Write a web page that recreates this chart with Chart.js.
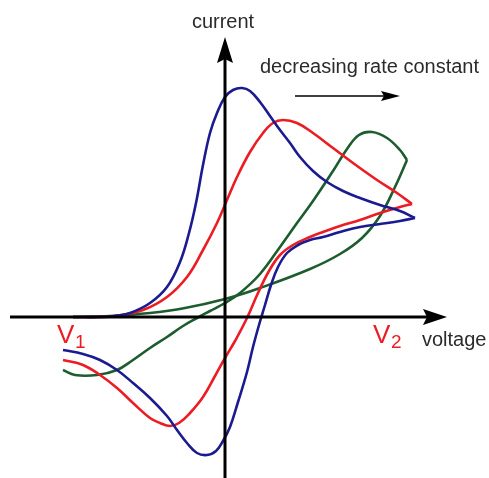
<!DOCTYPE html>
<html lang="en">
<head>
  <meta charset="UTF-8" />
  <title>Cyclic voltammograms — decreasing rate constant</title>
  <script src="https://cdn.jsdelivr.net/npm/chart.js"></script>
  <style>
    html, body { margin: 0; padding: 0; background: #fff; }
    #wrap { width: 489px; height: 478px; }
  </style>
</head>
<body>
  <div id="wrap"><canvas id="cv"></canvas></div>
  <script>
    // voltage, current in arbitrary units (origin = axis crossing)
    // each sweep: forward V1 -> V2, then reverse V2 -> V1
    const blueForward = [
      [-152, 0], [-125, 0], [-110, 1], [-95, 4], [-75, 14], [-58, 30], [-45, 55], [-36, 84],
      [-29, 114], [-22, 152], [-15, 184], [-8, 204], [0, 220], [8, 227], [17, 229], [25, 226],
      [35, 215], [45, 201], [55, 187], [65, 174], [75, 160], [88, 146], [102, 135], [118, 126],
      [135, 119], [155, 112], [175, 106], [190, 99]
    ];
    const blueReverse = [
      [190, 99], [175, 96], [155, 93], [135, 90], [115, 85], [98, 80], [85, 77], [73, 72],
      [62, 64], [53, 50], [46, 32], [40, 12], [34, -8], [28, -30], [22, -55], [13, -85],
      [5, -110], [-2, -124], [-9, -134], [-18, -138], [-28, -136], [-38, -126], [-48, -113],
      [-58, -99], [-75, -81], [-92, -66], [-108, -53], [-125, -43], [-142, -37], [-162, -33]
    ];
    const redForward = [
      [-152, 0], [-125, 0], [-110, 1], [-82, 7], [-58, 20], [-38, 40], [-22, 67], [-8, 94],
      [2, 117], [12, 140], [25, 165], [38, 184], [48, 194], [58, 197], [72, 194], [88, 184],
      [108, 169], [128, 154], [152, 137], [172, 124], [187, 113]
    ];
    const redReverse = [
      [187, 113], [175, 110], [155, 104], [135, 97], [115, 91], [98, 85], [85, 80], [68, 72],
      [55, 62], [44, 46], [33, 24], [22, -1], [10, -24], [0, -41], [-10, -59], [-22, -80],
      [-35, -96], [-46, -106], [-55, -109], [-65, -106], [-75, -101], [-92, -86], [-108, -71],
      [-125, -58], [-142, -48], [-162, -43]
    ];
    const greenForward = [
      [-152, 0], [-115, 1], [-75, 4], [-40, 9], [0, 18], [35, 29], [85, 48], [115, 63],
      [137, 79], [155, 101], [170, 130], [182, 157]
    ];
    const greenReverse = [
      [182, 157], [175, 167], [162, 179], [147, 185], [134, 182], [122, 168], [108, 146],
      [88, 116], [72, 94], [55, 70], [35, 43], [15, 24], [0, 14], [-15, 6], [-28, -1],
      [-42, -9], [-58, -20], [-75, -31], [-92, -43], [-108, -53], [-128, -58], [-150, -58], [-162, -53]
    ];

    const BLUE = '#1b1b8f';
    const RED = '#ec1c24';
    const GREEN = '#1d5c2f';

    const sweeps = [
      { data: blueForward, color: BLUE },
      { data: blueReverse, color: BLUE },
      { data: redForward, color: RED },
      { data: redReverse, color: RED },
      { data: greenForward, color: GREEN },
      { data: greenReverse, color: GREEN }
    ];

    // draws the two arrow axes through the origin and the annotations
    const axesPlugin = {
      id: 'axesPlugin',
      afterDatasetsDraw(chart) {
        const { ctx, scales: { x, y } } = chart;
        const px = v => x.getPixelForValue(v);
        const py = i => y.getPixelForValue(i);
        const x0 = px(0), y0 = py(0);

        ctx.save();
        ctx.strokeStyle = '#000';
        ctx.fillStyle = '#000';
        ctx.lineWidth = 3;

        // voltage axis
        ctx.beginPath();
        ctx.moveTo(px(-215), y0);
        ctx.lineTo(px(205), y0);
        ctx.stroke();
        ctx.beginPath();
        ctx.moveTo(px(222), y0);
        ctx.lineTo(px(198), y0 - 8);
        ctx.lineTo(px(202), y0);
        ctx.lineTo(px(198), y0 + 8);
        ctx.closePath();
        ctx.fill();

        // current axis
        ctx.beginPath();
        ctx.moveTo(x0, py(-165));
        ctx.lineTo(x0, py(262));
        ctx.stroke();
        ctx.beginPath();
        ctx.moveTo(x0, py(280));
        ctx.lineTo(x0 - 8, py(254));
        ctx.lineTo(x0, py(258));
        ctx.lineTo(x0 + 8, py(254));
        ctx.closePath();
        ctx.fill();

        // rate constant arrow
        ctx.lineWidth = 1.5;
        ctx.beginPath();
        ctx.moveTo(px(70), py(221));
        ctx.lineTo(px(162), py(221));
        ctx.stroke();
        ctx.beginPath();
        ctx.moveTo(px(175), py(221));
        ctx.lineTo(px(156), py(226));
        ctx.lineTo(px(159), py(221));
        ctx.lineTo(px(156), py(216));
        ctx.closePath();
        ctx.fill();

        // texts
        ctx.fillStyle = '#2b2b2b';
        ctx.font = '20px "Liberation Sans", Arial, sans-serif';
        ctx.textBaseline = 'middle';
        ctx.textAlign = 'center';
        ctx.fillText('current', px(-2), py(295));
        ctx.textAlign = 'left';
        ctx.fillText('decreasing rate constant', px(35), py(250));
        ctx.textBaseline = 'alphabetic';
        ctx.fillText('voltage', px(197), py(-29));

        ctx.fillStyle = RED;
        ctx.font = '26px "Liberation Sans", Arial, sans-serif';
        ctx.fillText('V', px(-168), py(-26));
        ctx.fillText('V', px(148), py(-26));
        ctx.font = '19px "Liberation Sans", Arial, sans-serif';
        ctx.fillText('1', px(-150), py(-31));
        ctx.fillText('2', px(166), py(-31));
        ctx.restore();
      }
    };

    new Chart(document.getElementById('cv'), {
      type: 'scatter',
      data: {
        datasets: sweeps.map(s => ({
          data: s.data.map(([v, i]) => ({ x: v, y: i })),
          showLine: true,
          borderColor: s.color,
          borderWidth: 2.6,
          pointRadius: 0,
          tension: 0.4,
          fill: false
        }))
      },
      options: {
        responsive: true,
        maintainAspectRatio: false,
        animation: false,
        layout: { padding: 0 },
        plugins: { legend: { display: false }, tooltip: { enabled: false } },
        scales: {
          x: { type: 'linear', min: -225, max: 264, display: false },
          y: { type: 'linear', min: -161, max: 317, display: false }
        }
      },
      plugins: [axesPlugin]
    });
  </script>
</body>
</html>
